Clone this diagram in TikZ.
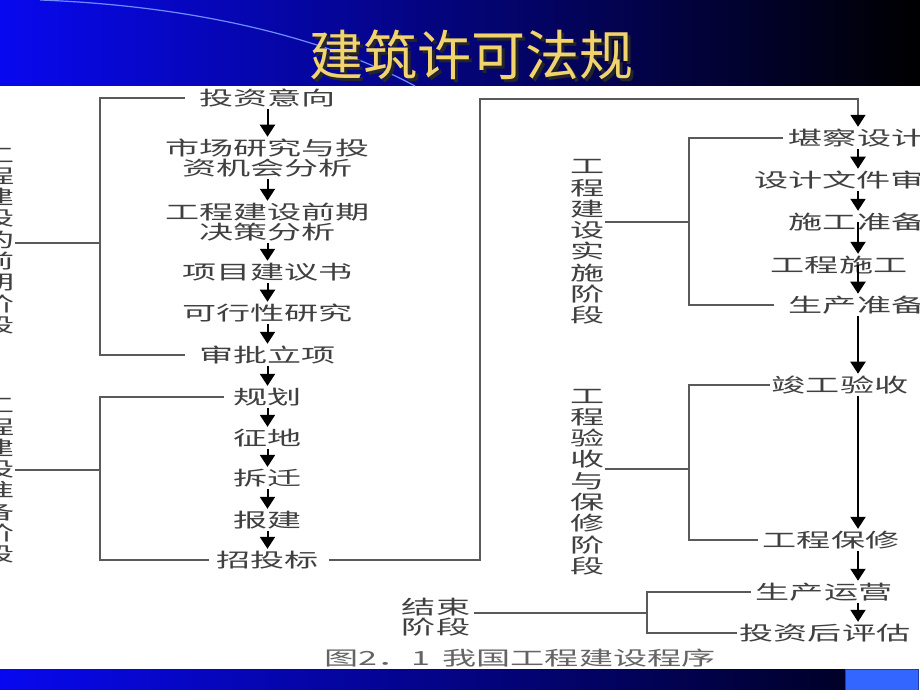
\documentclass[tikz,border=0pt]{standalone}
\usepackage{fontspec}
\newfontfamily\cjk[FakeStretch=1.75]{Noto Sans CJK SC}
\newfontfamily\cjktitle{Noto Sans CJK SC}
\usetikzlibrary{arrows.meta}
\definecolor{txt}{RGB}{64,64,64}
\definecolor{captxt}{RGB}{100,100,100}
\definecolor{lin}{RGB}{90,90,90}
\definecolor{gold}{RGB}{242,212,110}
\definecolor{barl}{RGB}{8,8,240}
\definecolor{barm}{RGB}{0,0,190}
\definecolor{bardark}{RGB}{0,0,40}
\definecolor{sqblue}{RGB}{51,102,255}
\definecolor{sqedge}{RGB}{30,60,170}
\definecolor{arcblue}{RGB}{110,140,255}
\tikzset{
	proc/.style={font=\cjk\fontsize{19.5}{20}\selectfont,text=txt,inner sep=2pt,align=center},
	phase/.style={font=\cjk\fontsize{19.5}{21.3}\selectfont,text=txt,inner sep=0pt,align=center},
	titletext/.style={font=\cjktitle\fontsize{54}{54}\selectfont},
	flow/.style={line width=2pt,-{Triangle[width=15pt,length=12pt]}},
	brk/.style={line width=1.8pt,draw=lin},
}
\begin{document}
\begin{tikzpicture}[x=1pt,y=-1pt]
	\clip (0,0) rectangle (920,690);
	\fill[white] (0,0) rectangle (920,690);
	\shade[left color=barl,middle color=barm,right color=black] (0,0) rectangle (920,86);
	\draw[arcblue,line width=1.2pt] (40,0) .. controls (200,6) and (330,40) .. (415,86);
	\node[titletext,text=black!85] (titleshadow) at (474,58) {建筑许可法规};
	\node[titletext,text=gold] (title) at (471,55) {建筑许可法规};
	\shade[left color=barl,right color=bardark] (0,669) rectangle (845,690);
	\filldraw[fill=sqblue,draw=sqedge,line width=0.8pt] (845.5,669.5) rectangle (918,690);
	\node[proc] (tzyx) at (267.5,98) {投资意向};
	\node[proc] (scfx) at (267.5,158) {市场研究与投\\资机会分析};
	\node[proc] (jcfx) at (267.5,222) {工程建设前期\\决策分析};
	\node[proc] (xmjys) at (267.5,272) {项目建议书};
	\node[proc] (kxyj) at (267.5,313) {可行性研究};
	\node[proc] (splx) at (267.5,355) {审批立项};
	\node[proc] (gh) at (267.5,397) {规划};
	\node[proc] (zd) at (267.5,438) {征地};
	\node[proc] (cq) at (267.5,478) {拆迁};
	\node[proc] (bj) at (267.5,520) {报建};
	\node[proc] (ztb) at (267.5,560) {招投标};
	\node[proc] (kcsj) at (857,138) {堪察设计};
	\node[proc] (sjsc) at (856.5,180) {设计文件审查};
	\node[proc] (sgzb) at (857,222) {施工准备};
	\node[proc] (gcsg) at (839,265) {工程施工};
	\node[proc] (sczb) at (857,305) {生产准备};
	\node[proc] (jgys) at (840,385) {竣工验收};
	\node[proc] (gcbx) at (831,540) {工程保修};
	\node[proc] (scyy) at (824,592) {生产运营};
	\node[proc] (tzhpg) at (825,633) {投资后评估};
	\node[phase] (qqjd) at (-2,241) {工\\程\\建\\设\\的\\前\\期\\阶\\段};
	\node[phase] (zbjd) at (-2,481) {工\\程\\建\\设\\准\\备\\阶\\段};
	\node[phase] (ssjd) at (588,242) {工\\程\\建\\设\\实\\施\\阶\\段};
	\node[phase] (ysjd) at (588,482) {工\\程\\验\\收\\与\\保\\修\\阶\\段};
	\node[proc,inner sep=4pt] (jsjd) at (436,617) {结束\\阶段};
	\node[proc,text=captxt] (caption) at (520,658) {图2．1\hspace{12pt}我国工程建设程序};
	\coordinate (b1) at (100,243);
	\coordinate (b2) at (100,470);
	\coordinate (b3) at (689,222);
	\coordinate (b4) at (689,469);
	\coordinate (b5) at (647,613);
	\coordinate (rc) at (858,0);
	\coordinate (tr) at (480,99);
	\draw[brk] ([xshift=-12pt]tzyx.west) -| (b1) |- ([xshift=-12pt]splx.west);
	\draw[brk] (qqjd.east |- b1) -- (b1);
	\draw[brk] ([xshift=-7pt]gh.west) -| (b2) |- ([xshift=-5pt]ztb.west);
	\draw[brk] (zbjd.east |- b2) -- (b2);
	\draw[brk] ([xshift=-4pt]kcsj.west) -| (b3) |- ([xshift=-13pt]sczb.west);
	\draw[brk] (ssjd.east |- b3) -- (b3);
	\draw[brk] (jgys.west) -| (b4) |- ([xshift=-3pt]gcbx.west);
	\draw[brk] (ysjd.east |- b4) -- (b4);
	\draw[brk] ([xshift=-3pt]scyy.west) -| (b5) |- (tzhpg.west);
	\draw[brk] (jsjd.east |- b5) -- (b5);
	\draw[flow] (tzyx) -- (scfx);
	\draw[flow] (scfx) -- (jcfx);
	\draw[flow] (jcfx) -- (xmjys);
	\draw[flow] (xmjys) -- (kxyj);
	\draw[flow] (kxyj) -- (splx);
	\draw[flow] (splx) -- (gh);
	\draw[flow] (gh) -- (zd);
	\draw[flow] (zd) -- (cq);
	\draw[flow] (cq) -- (bj);
	\draw[flow] (bj) -- (ztb);
	\draw[brk,-{Triangle[width=15pt,length=12pt,color=black]}] ([xshift=8pt]ztb.east) -| (tr) -| (kcsj.north -| rc);
	\draw[flow] (kcsj.south -| rc) -- (sjsc.north -| rc);
	\draw[flow] (sjsc.south -| rc) -- (sgzb.north -| rc);
	\draw[flow] (sgzb.center -| rc) -- (gcsg.north -| rc);
	\draw[flow] (gcsg.center -| rc) -- (sczb.north -| rc);
	\draw[flow] (sczb.south -| rc) -- (jgys.north -| rc);
	\draw[flow] (jgys.south -| rc) -- (gcbx.north -| rc);
	\draw[flow] (gcbx.south -| rc) -- (scyy.north -| rc);
	\draw[flow] (scyy.south -| rc) -- (tzhpg.north -| rc);
\end{tikzpicture}
\end{document}
